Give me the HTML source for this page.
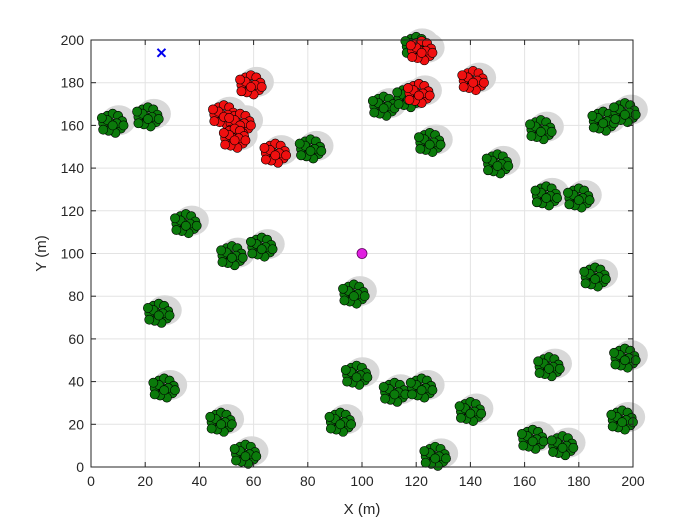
<!DOCTYPE html>
<html><head><meta charset="utf-8"><style>
body{margin:0;background:#fff;}
svg{display:block;font-family:"Liberation Sans",sans-serif;}
</style></head><body>
<svg id="chart" width="700" height="525"></svg>
<script>
const xTicks=[0,20,40,60,80,100,120,140,160,180,200];
const yTicks=[0,20,40,60,80,100,120,140,160,180,200];
const clusterX=[8,21,81,108,125,150,166,189,197,168,180,35,52,63,186,97,25,169,197,27,98,112,122,140,48,92,127,57,163,174,196,120,117];
const clusterY=[161,164,149,169,152,142,158,162,166,127,126,114,99,103,89,81,72,47,51,37,43,35,37,26,21,21,5,6,13,10,22,197,173];
const redX=[59,49,55,53,68,141,121,122];
const redY=[179,165,161,154,147,181,175,195];
const offX=[-3.5,-2,0,2,3.5,3,1,-1.5,-3.5,-0.5,1.5,-2,0,4,-4];
const offY=[0,3.5,4.5,3.5,1,-2.5,-4.5,-3.5,-3,0,0,1.5,-1,-1,2.5];
const baseX=[26],baseY=[194];
const targetX=[100],targetY=[100];

const NS='http://www.w3.org/2000/svg';
const svg=document.getElementById('chart');
const L=91,R=633,T=40,B=467;
const sx=v=>L+(v-0)/200*(R-L);
const sy=v=>B-(v-0)/200*(B-T);
function mk(tag,attrs,parent){const e=document.createElementNS(NS,tag);for(const k in attrs)e.setAttribute(k,attrs[k]);(parent||svg).appendChild(e);return e;}

const bg=mk('rect',{x:L,y:T,width:R-L,height:B-T,fill:'#fff'});


const grid=mk('g',{stroke:'#e3e3e3','stroke-width':1});


xTicks.forEach(t=>mk('line',{x1:sx(t),x2:sx(t),y1:T,y2:B},grid));
yTicks.forEach(t=>mk('line',{y1:sy(t),y2:sy(t),x1:L,x2:R},grid));

const shadows=mk('g',{fill:'#d8d8d8'});


const allX=clusterX.concat(redX), allY=clusterY.concat(redY);
allX.forEach((cx,i)=>mk('ellipse',{cx:sx(cx)+6,cy:sy(allY[i])-3,rx:17,ry:15},shadows));

function drawCluster(cx,cy,fill,name){
  const g=mk('g',{fill:fill,stroke:'#000','stroke-width':0.6});
  
  
  offX.forEach((ox,j)=>mk('circle',{cx:sx(cx+ox),cy:sy(cy+offY[j]),r:4.6},g));
}
clusterX.forEach((cx,i)=>drawCluster(cx,clusterY[i],'#0b7a0b','green-cluster'));
redX.forEach((cx,i)=>drawCluster(cx,redY[i],'#f01010','red-cluster'));

baseX.forEach((bx,i)=>{
  const g=mk('g',{stroke:'#0000ee','stroke-width':2});
  
  
  const x=sx(bx),y=sy(baseY[i]);
  mk('line',{x1:x-4,y1:y-4,x2:x+4,y2:y+4},g);mk('line',{x1:x-4,y1:y+4,x2:x+4,y2:y-4},g);
});
targetX.forEach((tx,i)=>{
  const c=mk('circle',{cx:sx(tx),cy:sy(targetY[i]),r:5,fill:'#e020e0',stroke:'#600060','stroke-width':0.8});
  
  
});

const frame=mk('rect',{x:L,y:T,width:R-L,height:B-T,fill:'none',stroke:'#262626','stroke-width':1});


const ticks=mk('g',{stroke:'#262626','stroke-width':1});


xTicks.forEach(t=>{mk('line',{x1:sx(t),x2:sx(t),y1:B,y2:B-5},ticks);mk('line',{x1:sx(t),x2:sx(t),y1:T,y2:T+5},ticks);});
yTicks.forEach(t=>{mk('line',{y1:sy(t),y2:sy(t),x1:L,x2:L+5},ticks);mk('line',{y1:sy(t),y2:sy(t),x1:R,x2:R-5},ticks);});
xTicks.forEach(t=>{const e=mk('text',{x:sx(t),y:B+19,'text-anchor':'middle','font-size':14,fill:'#262626'});e.textContent=t;
  
  });
yTicks.forEach(t=>{const e=mk('text',{x:L-7,y:sy(t)+5,'text-anchor':'end','font-size':14,fill:'#262626'});e.textContent=t;
  
  });
const xt=mk('text',{x:(L+R)/2,y:514,'text-anchor':'middle','font-size':15,fill:'#262626'});xt.textContent='X (m)';


const yt=mk('text',{x:46,y:(T+B)/2,'text-anchor':'middle','font-size':15,fill:'#262626',transform:`rotate(-90 46 ${(T+B)/2})`});yt.textContent='Y (m)';


</script>
</body></html>
